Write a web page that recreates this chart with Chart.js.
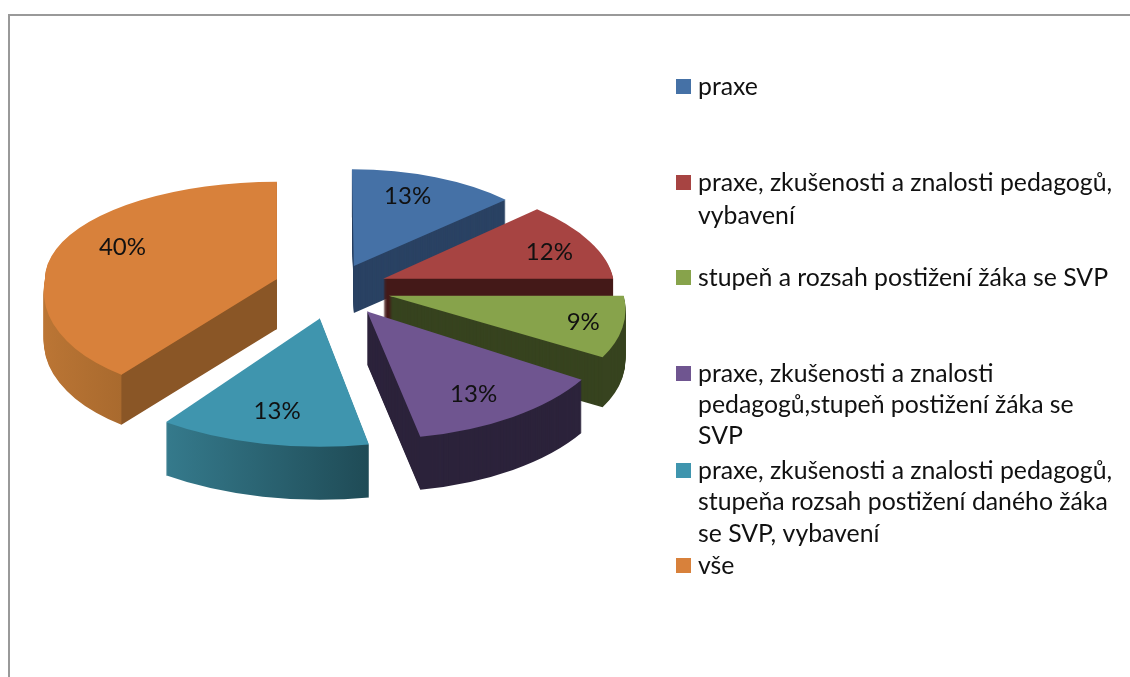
<!DOCTYPE html>
<html lang="cs">
<head>
<meta charset="utf-8">
<title>praxe</title>
<script src="https://cdn.jsdelivr.net/npm/chart.js@4"></script>
<style>
  html, body { margin: 0; padding: 0; background: #fff; overflow: hidden; }
  #frame { position: absolute; left: 8px; top: 14px; right: 0; bottom: 0; border-left: 2px solid #999; border-top: 2px solid #999; }
  canvas { position: absolute; left: 0; top: 0; }
</style>
</head>
<body>
<div id="frame"></div>
<canvas id="chart" width="1130" height="677"></canvas>
<script>
const categories = [
  ["praxe"],
  ["praxe, zkušenosti a znalosti pedagogů,", "vybavení"],
  ["stupeň a rozsah postižení žáka se SVP"],
  ["praxe, zkušenosti a znalosti", "pedagogů,stupeň postižení žáka se", "SVP"],
  ["praxe, zkušenosti a znalosti pedagogů,", "stupeňa rozsah postižení daného žáka", "se SVP, vybavení"],
  ["vše"],
];
const values = [13, 12, 9, 13, 13, 40];
const topColors = ["#4571A6", "#A74442", "#87A34B", "#6F5590", "#3F95AE", "#D8813B"];

// 3D look: Chart.js has no 3D pie, so each slice is squashed and extruded.
// Above and below the slice tip get their own tilt and shear, that fakes the perspective.
const centerX = 334, centerY = 288, centerTilt = 0.48;
const explode = [50, 53, 57, 59, 65, 60];
const sliceRadius = [210, 230, 235, 250, 262, 232];
const sliceTiltUp = [0.46, 0.44, 0.46, 0.49, 0.49, 0.42];
const sliceTiltDown = [0.46, 0.44, 0.49, 0.51, 0.49, 0.51];
const sliceShearUp = [0.02, 0.2, 0, 0, 0, 0];
const sliceShearDown = [0, 0, 0.25, 0.05, 0, -0.2];
const sliceDepth = [47, 50, 50, 53, 53, 50];
const sideColors = [
  ["#2A4263", "#2A4263"],
  ["#451A18", "#451A18"],
  ["#37431F", "#37431F"],
  ["#2C233B", "#2C233B"],
  ["#357A8C", "#1F4B56"],
  ["#BC7635", "#A96A2E"],
];
const orangeFace = "#8A5626";
const labelNudgeX = [-13, -5, 14, -6, 3, 22];
const labelNudgeY = [1, 3, 1, -2, -7, -8];

const legendX = 676, legendBox = 15, legendTextX = 698;
const legendY = [86, 182, 277, 373, 470, 565];
const legendLineGap = [0, 33, 0, 31, 31.5, 0];
const fontName = "Lato, 'Noto Sans', sans-serif";
const legendFontSize = 24.8;
const labelFontSize = 24;

const chartWidth = 1130, chartHeight = 677;

function sliceTip(arc, i) {
  const mid = (arc.startAngle + arc.endAngle) / 2;
  return {
    mid,
    x: centerX + explode[i] * Math.cos(mid),
    y: centerY + explode[i] * Math.sin(mid) * centerTilt,
  };
}

function sideFill(ctx, arc, i) {
  const r = arc.outerRadius;
  if (i === 5) {
    // orange: rim on the left of the corner, flat cut face on the right
    const g = ctx.createLinearGradient(arc.x - r, 0, arc.x, 0);
    const stop = 1 + Math.cos(arc.startAngle);
    g.addColorStop(0, sideColors[i][0]);
    g.addColorStop(stop, sideColors[i][1]);
    g.addColorStop(stop, orangeFace);
    g.addColorStop(1, orangeFace);
    return g;
  }
  if (i === 4) {
    const g = ctx.createLinearGradient(arc.x + r * Math.cos(arc.endAngle), 0, arc.x + r * Math.cos(arc.startAngle), 0);
    g.addColorStop(0, sideColors[i][0]);
    g.addColorStop(1, sideColors[i][1]);
    return g;
  }
  return sideColors[i][0];
}

function drawHalf(ctx, arc, i, dy, lower) {
  const tip = sliceTip(arc, i);
  const s = sliceRadius[i] / arc.outerRadius;
  const tilt = lower ? sliceTiltDown[i] : sliceTiltUp[i];
  const shear = lower ? sliceShearDown[i] : sliceShearUp[i];
  const cut = Math.round(tip.y + dy);
  ctx.save();
  ctx.beginPath();
  if (lower) ctx.rect(0, cut, chartWidth, chartHeight);
  else ctx.rect(0, 0, chartWidth, cut + 1);
  ctx.clip();
  ctx.transform(s, 0, shear * s * tilt, s * tilt, tip.x, tip.y + dy);
  ctx.translate(-arc.x, -arc.y);
  if (dy > 0) arc.options.backgroundColor = sideFill(ctx, arc, i);
  arc.draw(ctx);
  ctx.restore();
}

const pie3d = {
  id: "pie3d",
  beforeDatasetsDraw(chart) {
    const ctx = chart.ctx;
    chart.getDatasetMeta(0).data.forEach((arc, i) => {
      const top = arc.options.backgroundColor;
      for (let d = sliceDepth[i]; d >= 1; d--) {
        drawHalf(ctx, arc, i, d, true);
        drawHalf(ctx, arc, i, d, false);
      }
      arc.options.backgroundColor = top;
      drawHalf(ctx, arc, i, 0, true);
      drawHalf(ctx, arc, i, 0, false);
    });
    return false;
  },
  afterDraw(chart) {
    const ctx = chart.ctx;
    ctx.save();
    ctx.fillStyle = "#111";
    ctx.textBaseline = "middle";

    // percent labels
    ctx.font = labelFontSize + "px " + fontName;
    ctx.textAlign = "center";
    const total = values.reduce((a, b) => a + b, 0);
    chart.getDatasetMeta(0).data.forEach((arc, i) => {
      const tip = sliceTip(arc, i);
      const rho = sliceRadius[i] * 0.8;
      const sin = Math.sin(tip.mid);
      const x = tip.x + rho * Math.cos(tip.mid) + labelNudgeX[i];
      const y = tip.y + rho * sin * (sin > 0 ? sliceTiltDown[i] : sliceTiltUp[i]) + labelNudgeY[i];
      ctx.fillText(Math.round(values[i] / total * 100) + "%", x, y);
    });

    // legend, Excel left uneven gaps so the rows are placed by hand
    ctx.font = legendFontSize + "px " + fontName;
    ctx.textAlign = "left";
    categories.forEach((lines, i) => {
      ctx.fillStyle = topColors[i];
      ctx.fillRect(legendX, legendY[i] - 7, legendBox, legendBox);
      ctx.fillStyle = "#111";
      lines.forEach((line, n) => {
        ctx.fillText(line, legendTextX, legendY[i] + 1 + n * legendLineGap[i]);
      });
    });
    ctx.restore();
  },
};

new Chart(document.getElementById("chart"), {
  type: "pie",
  data: {
    labels: categories,
    datasets: [{ data: values, backgroundColor: topColors, borderWidth: 0 }],
  },
  options: {
    responsive: false,
    animation: false,
    plugins: { legend: { display: false }, tooltip: { enabled: false } },
  },
  plugins: [pie3d],
});
</script>
</body>
</html>
